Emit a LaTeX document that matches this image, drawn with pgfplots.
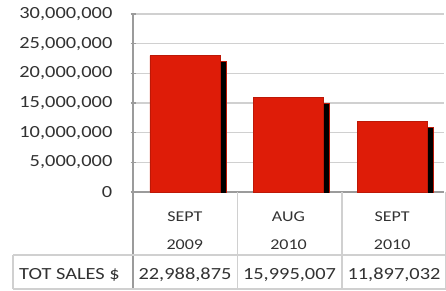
\documentclass[border=0pt]{standalone}
\usepackage{pgfplots}
\pgfplotsset{compat=1.18}
\usepackage{fontspec}
\setmainfont{Carlito}[FakeStretch=1.2]
\usetikzlibrary{shadows}
\definecolor{barred}{RGB}{222,28,8}
\definecolor{gridc}{RGB}{208,208,208}
\definecolor{axc}{RGB}{155,155,155}
\definecolor{txt}{RGB}{50,50,50}
\begin{document}
\begin{tikzpicture}[x=1pt,y=1pt]
\useasboundingbox (0,0) rectangle (446,290);
\begin{axis}[
  at={(133pt,98pt)}, anchor=south west,
  scale only axis, width=311pt, height=178pt,
  xmin=-0.5, xmax=2.5, ymin=0, ymax=30000000,
  ytick={0,5000000,10000000,15000000,20000000,25000000,30000000},
  scaled y ticks=false,
  /pgf/number format/fixed,
  /pgf/number format/1000 sep={,},
  /pgf/number format/assume math mode=true,
  yticklabel style={font=\fontsize{17}{20}\selectfont, text=txt, anchor=east, inner sep=0pt, xshift=-18pt},
  xtick={0,1,2},
  xticklabels={{SEPT\\2009},{AUG\\2010},{SEPT\\2010}},
  xticklabel style={font=\fontsize{15}{28}\selectfont, text=txt, align=center, anchor=north, inner sep=0pt, yshift=-15pt},
  x tick style={draw=none},
  y tick style={axc, line width=1.2pt},
  tick align=outside, major tick length=5pt,
  axis x line=bottom, axis y line=left,
  axis line style={-, axc, line width=1.3pt},
  ymajorgrids, major grid style={gridc, line width=1.3pt},
  ybar, bar width=70pt,
]
\addplot[fill=barred, draw=barred!85!black, line width=0.4pt,
  drop shadow={shadow xshift=6pt, shadow yshift=-6pt, fill=black, opacity=1}]
  coordinates {(0,22988875) (1,15995007) (2,11897032)};
\end{axis}
% table grid
\draw[axc, line width=1.3pt] (133,98) -- (133,1);
\draw[gridc, line width=1.1pt] (237.5,98) -- (237.5,1) (342,98) -- (342,1) (445.5,98) -- (445.5,1);
\draw[gridc, line width=1.1pt] (13,35) -- (446,35) (13,1) -- (446,1) (13,35) -- (13,1);
\begin{scope}[every node/.style={font=\fontsize{17}{20}\selectfont, text=txt, anchor=base, inner sep=0pt}]
\node[anchor=base west] at (19,11) {TOT SALES \$};
\node at (185,11) {22,988,875};
\node at (289.5,11) {15,995,007};
\node at (394,11) {11,897,032};
\end{scope}
\end{tikzpicture}
\end{document}
